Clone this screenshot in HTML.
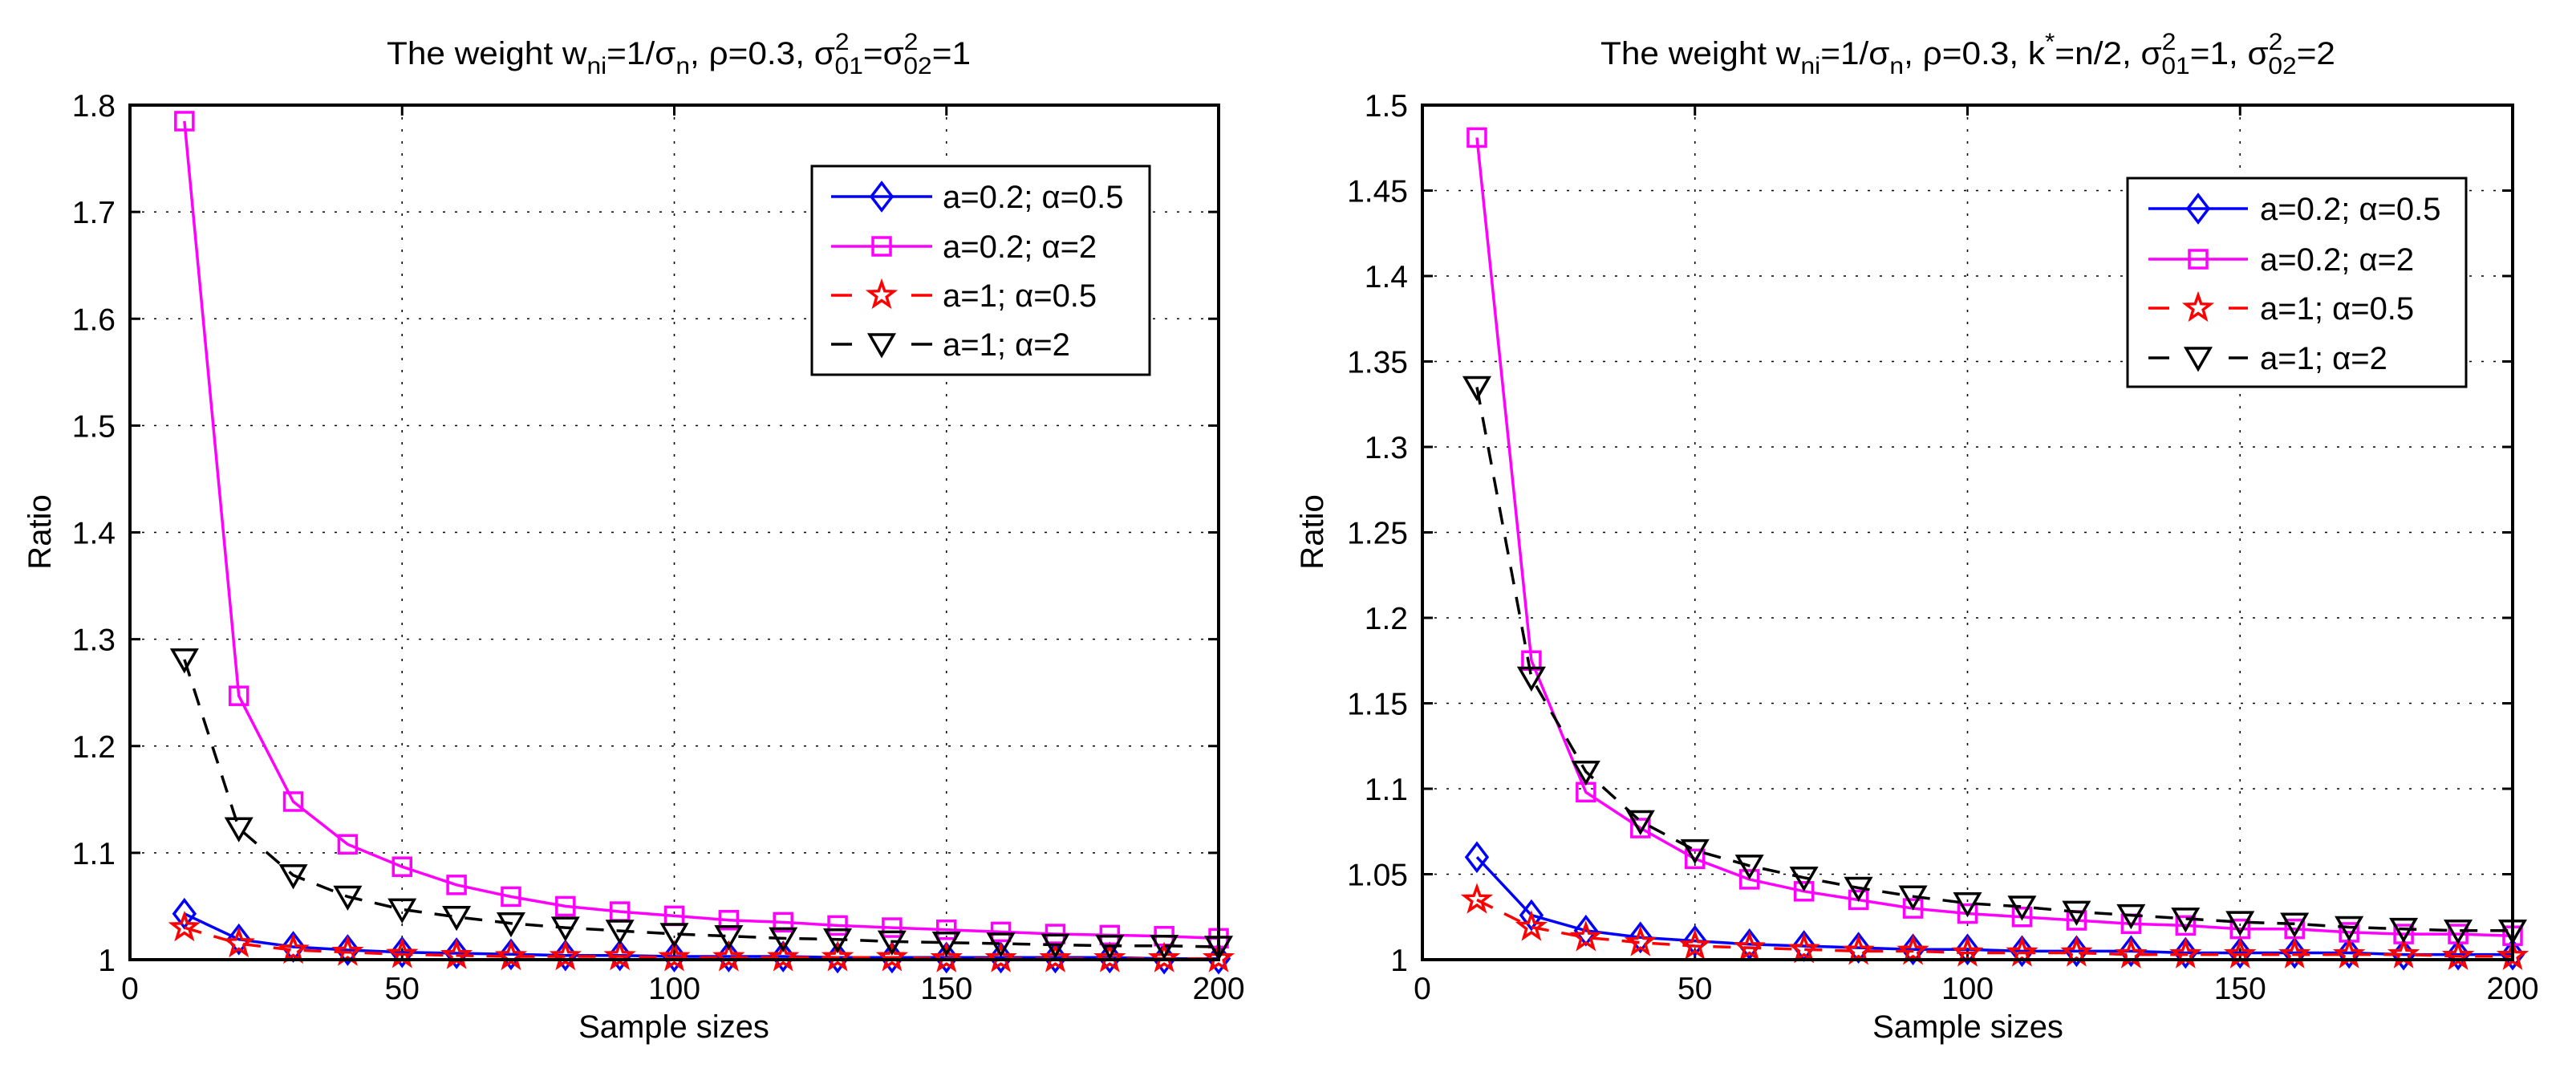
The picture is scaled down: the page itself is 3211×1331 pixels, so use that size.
<!DOCTYPE html>
<html><head><meta charset="utf-8"><style>
html,body{margin:0;padding:0;background:#fff;}
svg{display:block;font-family:"Liberation Sans",sans-serif;}
</style></head><body>
<svg id="fig" width="3211" height="1331" viewBox="0 0 3211 1331" xmlns="http://www.w3.org/2000/svg">
<rect x="0" y="0" width="3211" height="1331" fill="#fff"/>
</svg>
<script>
const xCats = [10,20,30,40,50,60,70,80,90,100,110,120,130,140,150,160,170,180,190,200];
const xTicks = [0,50,100,150,200];
const leftYTicks = [1,1.1,1.2,1.3,1.4,1.5,1.6,1.7,1.8];
const leftYLabels = ["1","1.1","1.2","1.3","1.4","1.5","1.6","1.7","1.8"];
const rightYTicks = [1,1.05,1.1,1.15,1.2,1.25,1.3,1.35,1.4,1.45,1.5];
const rightYLabels = ["1","1.05","1.1","1.15","1.2","1.25","1.3","1.35","1.4","1.45","1.5"];
const leftBlue = [1.043,1.019,1.012,1.009,1.007,1.006,1.005,1.004,1.004,1.003,1.003,1.003,1.002,1.002,1.002,1.002,1.002,1.002,1.001,1.001];
const leftPink = [1.785,1.247,1.148,1.108,1.087,1.070,1.059,1.050,1.045,1.041,1.037,1.035,1.032,1.030,1.028,1.026,1.024,1.023,1.022,1.020];
const leftRed = [1.030,1.015,1.009,1.007,1.005,1.004,1.003,1.003,1.003,1.002,1.002,1.002,1.002,1.002,1.001,1.001,1.001,1.001,1.001,1.001];
const leftBlack = [1.281,1.123,1.079,1.059,1.047,1.040,1.034,1.030,1.027,1.024,1.022,1.020,1.019,1.017,1.016,1.015,1.014,1.013,1.013,1.012];
const rightBlue = [1.060,1.026,1.017,1.013,1.011,1.009,1.008,1.007,1.006,1.006,1.005,1.005,1.005,1.004,1.004,1.004,1.004,1.003,1.003,1.003];
const rightPink = [1.481,1.175,1.098,1.077,1.059,1.047,1.040,1.035,1.030,1.027,1.025,1.023,1.021,1.020,1.018,1.018,1.016,1.015,1.015,1.014];
const rightRed = [1.035,1.019,1.013,1.010,1.008,1.007,1.006,1.005,1.005,1.004,1.004,1.004,1.003,1.003,1.003,1.003,1.003,1.003,1.002,1.002];
const rightBlack = [1.335,1.165,1.110,1.081,1.064,1.055,1.048,1.042,1.037,1.033,1.031,1.028,1.026,1.024,1.022,1.021,1.019,1.018,1.017,1.017];
const legendLabels = ["a=0.2; \u03b1=0.5","a=0.2; \u03b1=2","a=1; \u03b1=0.5","a=1; \u03b1=2"];

const NS="http://www.w3.org/2000/svg";
const svg=document.getElementById('fig');
function mk(tag,attrs,parent){const e=document.createElementNS(NS,tag);for(const k in attrs)e.setAttribute(k,attrs[k]);(parent||svg).appendChild(e);return e;}

const styles=[
 {color:"#0000ff",dash:null,marker:"diamond"},
 {color:"#ff00ff",dash:null,marker:"square"},
 {color:"#ff0000",dash:"22,16",marker:"star"},
 {color:"#000000",dash:"22,16",marker:"tri"}
];
const seriesNames=["series-a02-alpha05","series-a02-alpha2","series-a1-alpha05","series-a1-alpha2"];

function marker(g,type,cx,cy,color){
  let el;
  if(type==="diamond"){
    el=mk('polygon',{points:`${cx},${cy-17} ${cx+13},${cy} ${cx},${cy+17} ${cx-13},${cy}`,fill:"none",stroke:color,"stroke-width":3.5},g);
  }else if(type==="square"){
    el=mk('rect',{x:cx-11,y:cy-11,width:22,height:22,fill:"none",stroke:color,"stroke-width":3.5},g);
  }else if(type==="star"){
    let p=[];for(let i=0;i<10;i++){const r=i%2?6.5:16;const a=-Math.PI/2+i*Math.PI/5;p.push((cx+r*Math.cos(a)).toFixed(1)+","+(cy+r*Math.sin(a)).toFixed(1));}
    el=mk('polygon',{points:p.join(" "),fill:"none",stroke:color,"stroke-width":3.5},g);
  }else{
    el=mk('polygon',{points:`${cx-15},${cy-12} ${cx+15},${cy-12} ${cx},${cy+14}`,fill:"none",stroke:color,"stroke-width":3.5},g);
  }
  
  
}

function panel(opt){
  const {L,R,T,B,ymin,ymax,yTicks,yLabels,series,prefix}=opt;
  const xs=v=>L+(v-0)/(200-0)*(R-L);
  const ys=v=>B-(v-ymin)/(ymax-ymin)*(B-T);
  const g=mk('g',{});
  
  
  xTicks.forEach(t=>{
    if(t===0||t===200)return;
    const l=mk('line',{x1:xs(t),x2:xs(t),y1:T,y2:B,stroke:"#000","stroke-width":1.6,"stroke-dasharray":"3,12"},g);
    
  });
  yTicks.forEach(t=>{
    if(t===ymin||t===ymax)return;
    const l=mk('line',{x1:L,x2:R,y1:ys(t),y2:ys(t),stroke:"#000","stroke-width":1.6,"stroke-dasharray":"3,12"},g);
    
  });
  xTicks.forEach(t=>{
    mk('line',{x1:xs(t),x2:xs(t),y1:B,y2:B-13,stroke:"#000","stroke-width":3},g);
    mk('line',{x1:xs(t),x2:xs(t),y1:T,y2:T+13,stroke:"#000","stroke-width":3},g);
    const tx=mk('text',{x:xs(t),y:B+49,"font-size":39,"text-anchor":"middle",fill:"#000"},g);
    tx.textContent=String(t);
    
  });
  yTicks.forEach((t,i)=>{
    mk('line',{x1:L,x2:L+13,y1:ys(t),y2:ys(t),stroke:"#000","stroke-width":3},g);
    mk('line',{x1:R,x2:R-13,y1:ys(t),y2:ys(t),stroke:"#000","stroke-width":3},g);
    const tx=mk('text',{x:L-18,y:ys(t)+14,"font-size":39,"text-anchor":"end",fill:"#000"},g);
    tx.textContent=yLabels[i];
    
  });
  series.forEach((vals,si)=>{
    const st=styles[si];
    const sg=mk('g',{},g);
    
    
    const pts=vals.map((v,i)=>xs(xCats[i]).toFixed(1)+","+ys(v).toFixed(1)).join(" ");
    const pl=mk('polyline',{points:pts,fill:"none",stroke:st.color,"stroke-width":3.5},sg);
    if(st.dash)pl.setAttribute('stroke-dasharray',st.dash);
    
    vals.forEach((v,i)=>marker(sg,st.marker,xs(xCats[i]),ys(v),st.color));
  });
  const fr=mk('rect',{x:L,y:T,width:R-L,height:B-T,fill:"none",stroke:"#000","stroke-width":4},g);
  
  const lg=mk('g',{},g);
  
  const lb=opt.legend;
  mk('rect',{x:lb.x,y:lb.y,width:lb.w,height:lb.h,fill:"#fff",stroke:"#000","stroke-width":3},lg);
  lb.rows.forEach((ry,i)=>{
    const st=styles[i];
    const eg=mk('g',{},lg);
    
    const l=mk('line',{x1:lb.lx1,x2:lb.lx2,y1:ry,y2:ry,stroke:st.color,"stroke-width":3.5},eg);
    if(st.dash)l.setAttribute('stroke-dasharray',"26,74,26");
    marker(eg,st.marker,(lb.lx1+lb.lx2)/2,ry,st.color);
    const tx=mk('text',{x:lb.tx,y:ry+14,"font-size":40,fill:"#000"},eg);
    tx.textContent=legendLabels[i];
  });
}

panel({L:162,R:1519,T:131,B:1196,ymin:1,ymax:1.8,yTicks:leftYTicks,yLabels:leftYLabels,
  series:[leftBlue,leftPink,leftRed,leftBlack],prefix:"left",
  legend:{x:1012,y:207,w:421,h:260,rows:[245,307,368,429],lx1:1036,lx2:1162,tx:1175}});
panel({L:1773,R:3132,T:131,B:1196,ymin:1,ymax:1.5,yTicks:rightYTicks,yLabels:rightYLabels,
  series:[rightBlue,rightPink,rightRed,rightBlack],prefix:"right",
  legend:{x:2652,y:222,w:422,h:260,rows:[260,323,384,446],lx1:2678,lx2:2802,tx:2817}});
</script>
<svg style="position:absolute;left:0;top:0" width="3211" height="1331">
<text x="482" y="80" font-size="40" textLength="728" lengthAdjust="spacingAndGlyphs">The weight w<tspan font-size="30" dy="12">ni</tspan><tspan dy="-12">=1/σ</tspan><tspan font-size="30" dy="12">n</tspan><tspan dy="-12">, ρ=0.3, σ</tspan><tspan font-size="30" dy="-18">2</tspan><tspan font-size="30" dx="-17" dy="30">01</tspan><tspan dy="-12">=σ</tspan><tspan font-size="30" dy="-18">2</tspan><tspan font-size="30" dx="-17" dy="30">02</tspan><tspan dy="-12">=1</tspan></text>
<text x="1995" y="80" font-size="40" textLength="916" lengthAdjust="spacingAndGlyphs">The weight w<tspan font-size="30" dy="12">ni</tspan><tspan dy="-12">=1/σ</tspan><tspan font-size="30" dy="12">n</tspan><tspan dy="-12">, ρ=0.3, k</tspan><tspan font-size="30" dy="-18">*</tspan><tspan dy="18">=n/2, σ</tspan><tspan font-size="30" dy="-18">2</tspan><tspan font-size="30" dx="-17" dy="30">01</tspan><tspan dy="-12">=1, σ</tspan><tspan font-size="30" dy="-18">2</tspan><tspan font-size="30" dx="-17" dy="30">02</tspan><tspan dy="-12">=2</tspan></text>
<text x="840" y="1293" font-size="40" text-anchor="middle">Sample sizes</text>
<text x="2453" y="1293" font-size="40" text-anchor="middle">Sample sizes</text>
<text x="0" y="0" font-size="40" text-anchor="middle" transform="translate(63,663) rotate(-90)">Ratio</text>
<text x="0" y="0" font-size="40" text-anchor="middle" transform="translate(1649,663) rotate(-90)">Ratio</text>
</svg>
</body></html>
